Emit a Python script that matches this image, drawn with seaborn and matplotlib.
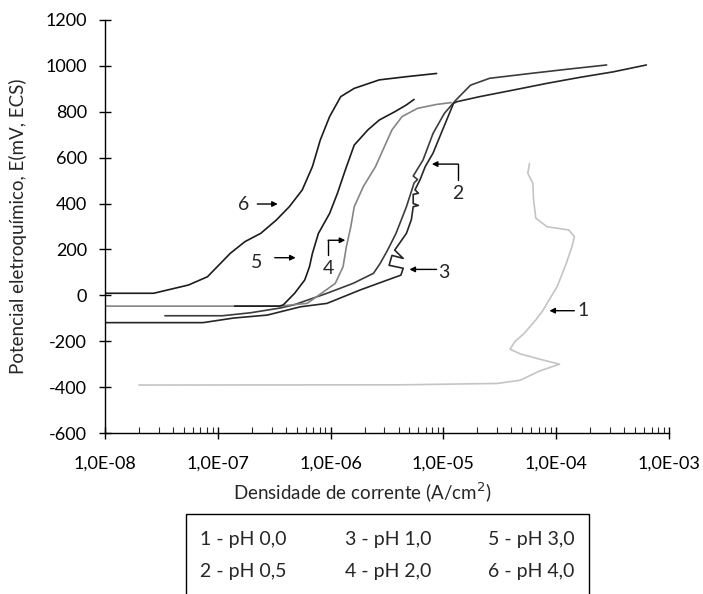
# ====== Curvas de polarizacao anodica em diferentes pH ======
import pandas as pd
import matplotlib.pyplot as plt
import matplotlib.patches as patches
import seaborn as sns

# Dados (densidade de corrente em A/cm2, potencial em mV)
ph00_i = [2.0e-8, 4.2e-6, 3.0e-5, 4.8e-5, 7.1e-5, 1.07e-4, 7.1e-5, 4.8e-5, 3.9e-5, 4.3e-5,
          5.2e-5, 6.6e-5, 7.6e-5, 8.9e-5, 1.02e-4, 1.23e-4, 1.38e-4, 1.45e-4, 1.29e-4,
          8.3e-5, 6.6e-5, 6.3e-5, 6.2e-5, 5.6e-5, 5.8e-5]
ph00_e = [-391, -390, -384, -370, -330, -300, -278, -255, -235, -202,
          -166, -107, -67, -10, 38, 140, 212, 256, 285,
          299, 336, 416, 488, 532, 575]

ph05_i = [3.4e-8, 1.1e-7, 1.95e-7, 3.5e-7, 4.7e-7, 9.3e-7, 1.58e-6, 2.4e-6, 2.75e-6,
          3.2e-6, 3.8e-6, 4.7e-6, 5.5e-6, 5.9e-6, 5.4e-6, 6.6e-6, 8.1e-6, 1.02e-5,
          1.29e-5, 1.74e-5, 2.57e-5, 5.9e-5, 1.23e-4, 2.8e-4]
ph05_e = [-89, -89, -76, -56, -42, 9, 52, 96, 139,
          197, 270, 386, 490, 505, 520, 590, 706, 793,
          851, 916, 946, 967, 985, 1004]

ph10_i = [1.0e-8, 7.4e-8, 1.38e-7, 2.75e-7, 5.4e-7, 9.3e-7, 1.82e-6, 3.2e-6, 4.2e-6,
          4.4e-6, 3.3e-6, 3.5e-6, 4.4e-6, 3.7e-6, 4.7e-6, 5.2e-6, 5.4e-6, 6.0e-6,
          5.4e-6, 5.4e-6, 6.0e-6, 5.6e-6, 6.2e-6, 6.9e-6, 8.1e-6, 9.3e-6, 1.1e-5,
          1.23e-5, 1.32e-5, 2.1e-5, 4.2e-5, 8.3e-5, 1.62e-4, 3.2e-4, 6.3e-4]
ph10_e = [-119, -119, -99, -86, -50, -35, 23, 67, 88,
          118, 131, 174, 161, 197, 270, 330, 386, 392,
          400, 440, 445, 460, 503, 561, 620, 692, 779,
          837, 844, 866, 895, 924, 950, 974, 1004]

ph20_i = [1.0e-8, 3.5e-7, 6.2e-7, 8.3e-7, 1.1e-6, 1.29e-6, 1.38e-6, 1.51e-6, 1.62e-6,
          1.95e-6, 2.5e-6, 3.0e-6, 3.5e-6, 4.3e-6, 5.9e-6, 8.7e-6, 1.17e-5]
ph20_e = [-47, -47, -35, 9, 52, 125, 212, 299, 386,
          474, 561, 648, 721, 779, 815, 832, 840]

ph30_i = [1.41e-7, 3.5e-7, 3.8e-7, 4.8e-7, 5.9e-7, 6.5e-7, 6.9e-7, 7.8e-7, 9.8e-7,
          1.15e-6, 1.35e-6, 1.62e-6, 2.14e-6, 2.7e-6, 3.7e-6, 4.7e-6, 5.5e-6]
ph30_e = [-47, -47, -42, 9, 67, 125, 183, 270, 357,
          445, 546, 655, 721, 764, 800, 830, 854]

ph40_i = [1.0e-8, 2.7e-8, 5.5e-8, 8.1e-8, 1.29e-7, 1.74e-7, 2.4e-7, 3.3e-7, 4.3e-7,
          5.6e-7, 6.9e-7, 8.1e-7, 9.8e-7, 1.23e-6, 1.62e-6, 2.7e-6, 4.7e-6, 8.7e-6]
ph40_e = [9, 9, 45, 81, 183, 234, 270, 328, 386,
          459, 561, 677, 779, 866, 902, 939, 953, 967]

curvas = ["1", "2", "3", "4", "5", "6"]
legenda = ["1 - pH 0,0", "2 - pH 0,5", "3 - pH 1,0", "4 - pH 2,0", "5 - pH 3,0", "6 - pH 4,0"]
x_ticks = [1e-8, 1e-7, 1e-6, 1e-5, 1e-4, 1e-3]
x_labels = ["1,0E-08", "1,0E-07", "1,0E-06", "1,0E-05", "1,0E-04", "1,0E-03"]
y_ticks = [-600, -400, -200, 0, 200, 400, 600, 800, 1000, 1200]

sns.set_style("ticks")
plt.rcParams['font.family'] = ['Lato', 'DejaVu Sans']

fig = plt.figure(figsize=(7.03, 5.94), dpi=100)
ax = fig.add_axes([105/703, 1 - 433/594, 564/703, 413/594])

dados = [(ph00_i, ph00_e, "#c4c4c4"), (ph05_i, ph05_e, "#3c3c3c"), (ph10_i, ph10_e, "#262626"),
         (ph20_i, ph20_e, "#858585"), (ph30_i, ph30_e, "#1c1c1c"), (ph40_i, ph40_e, "#1c1c1c")]
for (i_vals, e_vals, cor), nome in zip(dados, curvas):
    df = pd.DataFrame({"i": i_vals, "E": e_vals})
    sns.lineplot(data=df, x="i", y="E", sort=False, estimator=None, color=cor,
                 linewidth=1.2, ax=ax)

ax.set_xscale('log')
ax.set_xlim(1e-8, 1e-3)
ax.set_ylim(-600, 1200)
ax.set_xticks(x_ticks)
ax.set_xticklabels(x_labels)
ax.set_yticks(y_ticks)
ax.set_yticklabels([str(v) for v in y_ticks])
ax.set_xlabel("")
ax.set_ylabel("")
sns.despine(ax=ax)
for s in ["left", "bottom"]:
    ax.spines[s].set_linewidth(1.0)
    ax.spines[s].set_color("black")
ax.tick_params(axis='x', which='major', direction='inout', length=8, width=1,
               pad=12, labelsize=13, colors='black')
ax.tick_params(axis='x', which='minor', direction='in', length=4, width=0.8)
ax.tick_params(axis='y', direction='inout', length=8, width=1, pad=9,
               labelsize=13, colors='black')

# Setas de identificacao das curvas
seta = dict(arrowstyle='-|>', color='black', lw=1, mutation_scale=8, shrinkA=0, shrinkB=0)
ax.text(1.7e-7, 394, "6", fontsize=14, ha='center', va='center')
ax.annotate("", xy=(3.4e-7, 398), xytext=(2.24e-7, 398), arrowprops=seta)
ax.text(2.2e-7, 142, "5", fontsize=14, ha='center', va='center')
ax.annotate("", xy=(4.9e-7, 164), xytext=(3.2e-7, 164), arrowprops=seta)
ax.text(9.5e-7, 119, "4", fontsize=14, ha='center', va='center')
ax.plot([9.5e-7, 9.5e-7], [175, 240], color='black', lw=1)
ax.annotate("", xy=(1.35e-6, 240), xytext=(9.5e-7, 240), arrowprops=seta)
ax.text(1.0e-5, 101, "3", fontsize=14, ha='center', va='center')
ax.annotate("", xy=(5.0e-6, 113), xytext=(8.7e-6, 113), arrowprops=seta)
ax.text(1.33e-5, 446, "2", fontsize=14, ha='center', va='center')
ax.plot([1.35e-5, 1.35e-5], [502, 572], color='black', lw=1)
ax.annotate("", xy=(7.9e-6, 572), xytext=(1.35e-5, 572), arrowprops=seta)
ax.text(1.74e-4, -67, "1", fontsize=14, ha='center', va='center')
ax.annotate("", xy=(8.7e-5, -67), xytext=(1.45e-4, -67), arrowprops=seta)

# Titulos dos eixos
fig.text(18/703, 1 - 226/594, "Potencial eletroquímico, E(mV, ECS)", rotation=90,
         ha='center', va='center', fontsize=13.5)
fig.text(362/703, 1 - 493/594, "Densidade de corrente (A/cm$^2$)", ha='center',
         va='center', fontsize=13.5)

# Caixa de legenda
caixa = patches.Rectangle((186/703, -0.05), 403/703, 0.05 + 1 - 514/594, fill=False,
                          lw=1, edgecolor='black', transform=fig.transFigure)
fig.patches.append(caixa)
col_x = [200, 345, 488]
lin_y = [540, 572]
for k, txt in enumerate(legenda):
    fig.text(col_x[k // 2]/703, 1 - lin_y[k % 2]/594, txt, ha='left', va='center', fontsize=14)

plt.savefig("out.png", dpi=100)
